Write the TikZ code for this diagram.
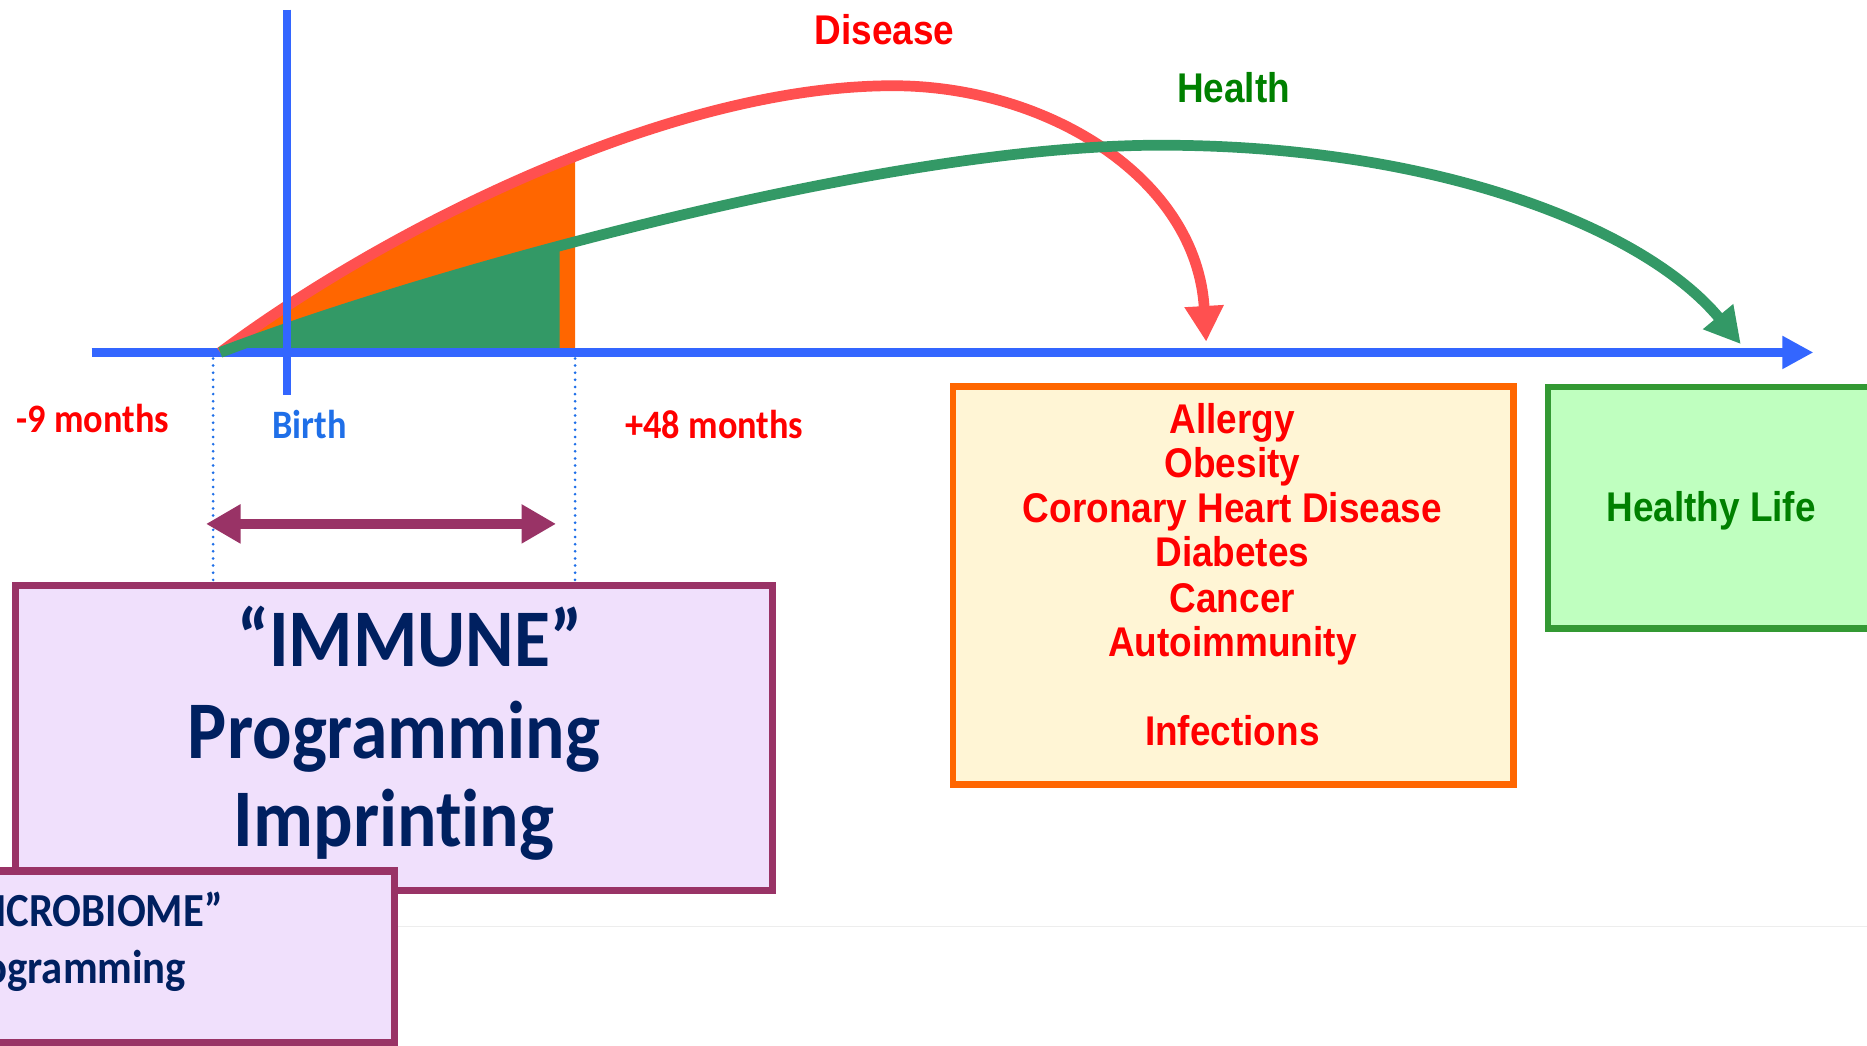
\documentclass[tikz,border=0pt]{standalone}
\usepackage{fontspec}
\usetikzlibrary{arrows.meta}
\newfontfamily\arialbf{Liberation Sans}[FakeStretch=0.89]
\newfontfamily\calib{Carlito}[FakeStretch=0.9,Ligatures=NoCommon]

\definecolor{axisblue}{HTML}{3366FF}
\definecolor{dotblue}{HTML}{1F6FE8}
\definecolor{birthblue}{HTML}{1F6FE8}
\definecolor{disred}{HTML}{FF5050}
\definecolor{fillorange}{HTML}{FF6600}
\definecolor{hgreen}{HTML}{339966}
\definecolor{plum}{HTML}{993366}
\definecolor{lav}{HTML}{F0E0FC}
\definecolor{navy}{HTML}{002060}
\definecolor{cream}{HTML}{FFF5D5}
\definecolor{txtred}{HTML}{FF0000}
\definecolor{txtgreen}{HTML}{008000}
\definecolor{lifegreen}{HTML}{BFFFBF}
\definecolor{lifeborder}{HTML}{339933}

\begin{document}
\begin{tikzpicture}[x=1bp,y=-1bp,
  panel/.style={rectangle, inner sep=0pt, line width=6bp},
  armfont/.style={font=\arialbf\bfseries\fontsize{35}{38}\selectfont, inner sep=0pt, anchor=base},
  monthfont/.style={font=\calib\bfseries\fontsize{34}{38}\selectfont, inner sep=0pt, anchor=base},
  immtext/.style={font=\calib\bfseries\fontsize{69}{76}\selectfont, text=navy, inner sep=0pt, anchor=base},
  mictext/.style={font=\calib\bfseries\fontsize{40}{48}\selectfont, text=navy, inner sep=0pt, anchor=base},
  dotline/.style={dotblue, line width=2.5bp, line cap=round, dash pattern=on 0bp off 6bp},
  bigtip/.style={-{Triangle[length=30bp,width=31bp]}}
]
\useasboundingbox (0,0) rectangle (1568,878);
\clip (0,0) rectangle (1568,878);

% key points of the time line
\coordinate (start) at (185,296);
\coordinate (axL) at (77,296);
\coordinate (axR) at (1523,296);
\coordinate (birthtop) at (241,8);
\coordinate (birthbot) at (241,332);
\coordinate (distip) at (1013,287);
\coordinate (heatip) at (1462,289);
\coordinate (spanL) at (173,440);
\coordinate (spanR) at (467,440);
\coordinate (m9top) at (179,301);
\coordinate (m9bot) at (179,488);
\coordinate (p48top) at (483,301);
\coordinate (p48bot) at (483,488);

% slide edge
\draw[black!7, line width=1bp] (331,778) -- (1568,778);

% shaded windows under the two curves
\begin{scope}
  \clip (0,0) rectangle (483,296);
  \fill[fillorange] (start) .. controls (320,195) and (560,72) .. (750,72) -- (750,296) -- cycle;
\end{scope}
\begin{scope}
  \clip (0,0) rectangle (470,296);
  \fill[hgreen] (start) .. controls (330,240) and (720,125) .. (965,122) -- (965,296) -- cycle;
\end{scope}

% time axis
\draw[axisblue, line width=7bp, -{Triangle[length=26bp,width=26bp]}] (axL) -- (axR);

% disease and health trajectories
\draw[disred, line width=9bp, bigtip] (start) .. controls (320,195) and (560,72) .. (750,72)
  .. controls (880,72) and (1005,150) .. (distip);
\draw[hgreen, line width=9bp, bigtip] (start) .. controls (330,240) and (720,125) .. (965,122)
  .. controls (1200,120) and (1380,190) .. (heatip);

% birth marker
\draw[axisblue, line width=6bp] (birthtop) -- (birthbot);

% window limits
\draw[dotline] (m9top) -- (m9bot);
\draw[dotline] (p48top) -- (p48bot);

% window span
\draw[plum, line width=8bp, {Triangle[length=29bp,width=31bp]}-{Triangle[length=29bp,width=31bp]}] (spanL) -- (spanR);

% axis labels
\node[monthfont, text=txtred] (lblm9) at (78,363) {-9 months};
\node[monthfont, text=birthblue] (lblbirth) at (260,368) {Birth};
\node[monthfont, text=txtred] (lblp48) at (600,368) {+48 months};
\node[armfont, text=txtred] (lbldis) at (743,37) {Disease};
\node[armfont, text=txtgreen] (lblhea) at (1036,86) {Health};

% outcome panels
\node[panel, draw=fillorange, fill=cream, line width=5.5bp, minimum width=470.5bp, minimum height=334.5bp] (disbox) at (1035.75,491.75) {};
\foreach \txt/\yy [count=\k] in {Allergy/364, Obesity/401, Coronary Heart Disease/438.5, Diabetes/476, Cancer/514, Autoimmunity/551, Infections/626}
  \node[armfont, text=txtred] (dis\k) at (1035,\yy) {\txt};

\node[panel, draw=lifeborder, fill=lifegreen, line width=5.5bp, minimum width=400bp, minimum height=203bp] (lifebox) at (1500,426.5) {};
\node[armfont, text=txtgreen] (lifetxt) at (1437,438) {Healthy Life};

% programming panels
\node[panel, draw=plum, fill=lav, minimum width=636bp, minimum height=256.5bp] (immbox) at (331,619.75) {};
\node[immtext] (imm1) at (344,560) {“IMMUNE”};
\node[immtext] (imm2) at (331,637) {Programming};
\node[immtext] (imm3) at (331,711) {Imprinting};

\node[panel, draw=plum, fill=lav, minimum width=640bp, minimum height=144bp] (micbox) at (11,803.5) {};
\node[mictext] (mic1) at (68,778) {“MICROBIOME”};
\node[mictext] (mic2) at (56,826) {Programming};
\end{tikzpicture}
\end{document}
